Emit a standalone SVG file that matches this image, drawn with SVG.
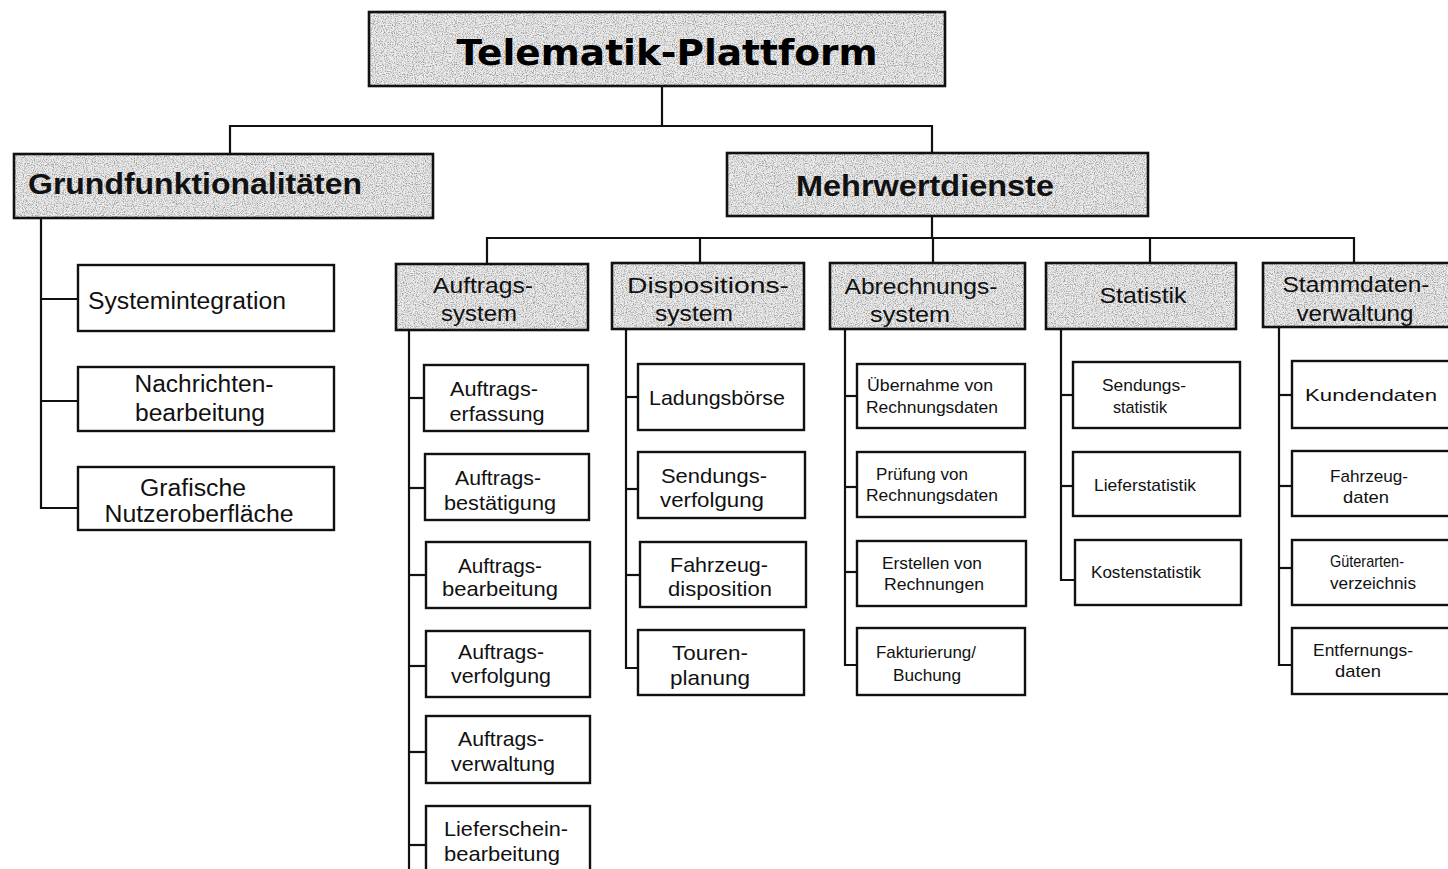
<svg xmlns="http://www.w3.org/2000/svg" width="1448" height="869" viewBox="0 0 1448 869">
  <style>
    .shade { fill: #d4d4d4; filter: url(#grain); }
    .frame { fill: none; stroke: #111; stroke-width: 2.6; }
    .box { fill: #fff; stroke: #111; stroke-width: 2.4; }
    .wire { fill: none; stroke: #111; stroke-width: 2.2; }
    text { fill: #111; font-family: "Liberation Sans", Arial, sans-serif; }
    .t0 { font-family: "DejaVu Sans", Verdana, sans-serif; font-weight: bold; font-size: 36px; fill: #000; }
    .t1 { font-weight: bold; font-size: 29px; }
    .t2 { font-size: 22px; text-anchor: middle; }
    .t3 { font-size: 23px; text-anchor: middle; }
    .t4 { font-size: 21px; text-anchor: middle; }
    .t5 { font-size: 17px; text-anchor: middle; }
  </style>
  <defs>
    <!-- speckled grey fill for heading boxes -->
    <filter id="grain" x="0" y="0" width="100%" height="100%">
      <feTurbulence type="fractalNoise" baseFrequency="0.9" numOctaves="2" seed="7" result="noise"/>
      <feColorMatrix in="noise" type="matrix" values="0 0 0 0 0.35  0 0 0 0 0.35  0 0 0 0 0.35  0 0 0 -3 1.75" result="dots"/>
      <feComposite in="dots" in2="SourceGraphic" operator="in" result="speck"/>
      <feFlood flood-color="#ececec" result="light"/>
      <feComposite in="light" in2="SourceGraphic" operator="in" result="base"/>
      <feMerge><feMergeNode in="base"/><feMergeNode in="speck"/></feMerge>
    </filter>
  </defs>
  <rect width="1448" height="869" fill="#fff"/>

  <g id="connectors">
    <!-- root to level 1 -->
    <polyline class="wire" points="662,86 662,126"/>
    <polyline class="wire" points="230,154 230,126 932,126 932,153"/>
    <!-- Grundfunktionalitäten -->
    <polyline class="wire" points="41,218 41,508 78,508"/>
    <line class="wire" x1="41" y1="299" x2="78" y2="299"/>
    <line class="wire" x1="41" y1="401" x2="78" y2="401"/>
    <!-- Mehrwertdienste -->
    <polyline class="wire" points="932,216 932,238"/>
    <polyline class="wire" points="487,264 487,238 1354,238 1354,263"/>
    <line class="wire" x1="700" y1="238" x2="700" y2="263"/>
    <line class="wire" x1="933" y1="238" x2="933" y2="263"/>
    <line class="wire" x1="1150" y1="238" x2="1150" y2="263"/>
    <!-- Auftragssystem -->
    <polyline class="wire" points="409,330 409,869"/>
    <line class="wire" x1="409" y1="398" x2="424" y2="398"/>
    <line class="wire" x1="409" y1="488" x2="424" y2="488"/>
    <line class="wire" x1="409" y1="575" x2="426" y2="575"/>
    <line class="wire" x1="409" y1="666" x2="426" y2="666"/>
    <line class="wire" x1="409" y1="752" x2="426" y2="752"/>
    <line class="wire" x1="409" y1="845" x2="426" y2="845"/>
    <!-- Dispositionssystem -->
    <polyline class="wire" points="626,329 626,668 638,668"/>
    <line class="wire" x1="626" y1="397" x2="638" y2="397"/>
    <line class="wire" x1="626" y1="489" x2="638" y2="489"/>
    <line class="wire" x1="626" y1="575" x2="640" y2="575"/>
    <!-- Abrechnungssystem -->
    <polyline class="wire" points="845,329 845,665 857,665"/>
    <line class="wire" x1="845" y1="396" x2="857" y2="396"/>
    <line class="wire" x1="845" y1="487" x2="857" y2="487"/>
    <line class="wire" x1="845" y1="572" x2="857" y2="572"/>
    <!-- Statistik -->
    <polyline class="wire" points="1061,329 1061,580 1075,580"/>
    <line class="wire" x1="1061" y1="395" x2="1073" y2="395"/>
    <line class="wire" x1="1061" y1="486" x2="1073" y2="486"/>
    <!-- Stammdatenverwaltung -->
    <polyline class="wire" points="1279,327 1279,665 1292,665"/>
    <line class="wire" x1="1279" y1="395" x2="1292" y2="395"/>
    <line class="wire" x1="1279" y1="486" x2="1292" y2="486"/>
    <line class="wire" x1="1279" y1="568" x2="1292" y2="568"/>
  </g>

  <!-- root -->
  <g id="telematik-plattform">
    <rect class="shade" x="369" y="12" width="576" height="74"/>
    <rect class="frame" x="369" y="12" width="576" height="74"/>
    <text class="t0" x="667" y="65" text-anchor="middle" textLength="421" lengthAdjust="spacingAndGlyphs">Telematik-Plattform</text>
  </g>

  <!-- level 1 -->
  <g id="grundfunktionalitaeten">
    <rect class="shade" x="14" y="154" width="419" height="64"/>
    <rect class="frame" x="14" y="154" width="419" height="64"/>
    <text class="t1" x="28" y="194" textLength="334" lengthAdjust="spacingAndGlyphs">Grundfunktionalitäten</text>
  </g>
  <g id="mehrwertdienste">
    <rect class="shade" x="727" y="153" width="421" height="63"/>
    <rect class="frame" x="727" y="153" width="421" height="63"/>
    <text class="t1" x="796" y="196" textLength="258" lengthAdjust="spacingAndGlyphs">Mehrwertdienste</text>
  </g>

  <!-- Grundfunktionalitäten children -->
  <g id="systemintegration">
    <rect class="box" x="78" y="265" width="256" height="66"/>
    <text class="t3" x="187" y="309" textLength="198" lengthAdjust="spacingAndGlyphs">Systemintegration</text>
  </g>
  <g id="nachrichtenbearbeitung">
    <rect class="box" x="78" y="367" width="256" height="64"/>
    <text class="t3" x="204" y="392" textLength="139" lengthAdjust="spacingAndGlyphs">Nachrichten-</text>
    <text class="t3" x="200" y="421" textLength="130" lengthAdjust="spacingAndGlyphs">bearbeitung</text>
  </g>
  <g id="nutzeroberflaeche">
    <rect class="box" x="78" y="467" width="256" height="63"/>
    <text class="t3" x="193" y="496" textLength="106" lengthAdjust="spacingAndGlyphs">Grafische</text>
    <text class="t3" x="199" y="522" textLength="189" lengthAdjust="spacingAndGlyphs">Nutzeroberfläche</text>
  </g>

  <!-- Mehrwertdienste categories -->
  <g id="auftragssystem">
    <rect class="shade" x="396" y="264" width="192" height="66"/>
    <rect class="frame" x="396" y="264" width="192" height="66"/>
    <text class="t2" x="483" y="293" textLength="100" lengthAdjust="spacingAndGlyphs">Auftrags-</text>
    <text class="t2" x="479" y="321" textLength="76" lengthAdjust="spacingAndGlyphs">system</text>
  </g>
  <g id="dispositionssystem">
    <rect class="shade" x="612" y="263" width="192" height="66"/>
    <rect class="frame" x="612" y="263" width="192" height="66"/>
    <text class="t2" x="708" y="293" textLength="162" lengthAdjust="spacingAndGlyphs">Dispositions-</text>
    <text class="t2" x="694" y="321" textLength="78" lengthAdjust="spacingAndGlyphs">system</text>
  </g>
  <g id="abrechnungssystem">
    <rect class="shade" x="830" y="263" width="195" height="66"/>
    <rect class="frame" x="830" y="263" width="195" height="66"/>
    <text class="t2" x="921" y="294" textLength="153" lengthAdjust="spacingAndGlyphs">Abrechnungs-</text>
    <text class="t2" x="910" y="322" textLength="80" lengthAdjust="spacingAndGlyphs">system</text>
  </g>
  <g id="statistik">
    <rect class="shade" x="1046" y="263" width="190" height="66"/>
    <rect class="frame" x="1046" y="263" width="190" height="66"/>
    <text class="t2" x="1143" y="303" textLength="87" lengthAdjust="spacingAndGlyphs">Statistik</text>
  </g>
  <g id="stammdatenverwaltung">
    <rect class="shade" x="1263" y="263" width="200" height="64"/>
    <rect class="frame" x="1263" y="263" width="200" height="64"/>
    <text class="t2" x="1356" y="292" textLength="147" lengthAdjust="spacingAndGlyphs">Stammdaten-</text>
    <text class="t2" x="1355" y="321" textLength="117" lengthAdjust="spacingAndGlyphs">verwaltung</text>
  </g>

  <!-- Auftragssystem children -->
  <g id="auftragserfassung">
    <rect class="box" x="424" y="365" width="164" height="66"/>
    <text class="t4" x="494" y="396" textLength="88" lengthAdjust="spacingAndGlyphs">Auftrags-</text>
    <text class="t4" x="497" y="421" textLength="95" lengthAdjust="spacingAndGlyphs">erfassung</text>
  </g>
  <g id="auftragsbestaetigung">
    <rect class="box" x="425" y="454" width="164" height="66"/>
    <text class="t4" x="498" y="485" textLength="86" lengthAdjust="spacingAndGlyphs">Auftrags-</text>
    <text class="t4" x="500" y="510" textLength="112" lengthAdjust="spacingAndGlyphs">bestätigung</text>
  </g>
  <g id="auftragsbearbeitung">
    <rect class="box" x="426" y="542" width="164" height="66"/>
    <text class="t4" x="500" y="573" textLength="84" lengthAdjust="spacingAndGlyphs">Auftrags-</text>
    <text class="t4" x="500" y="596" textLength="116" lengthAdjust="spacingAndGlyphs">bearbeitung</text>
  </g>
  <g id="auftragsverfolgung">
    <rect class="box" x="426" y="631" width="164" height="66"/>
    <text class="t4" x="501" y="659" textLength="86" lengthAdjust="spacingAndGlyphs">Auftrags-</text>
    <text class="t4" x="501" y="683" textLength="100" lengthAdjust="spacingAndGlyphs">verfolgung</text>
  </g>
  <g id="auftragsverwaltung">
    <rect class="box" x="426" y="716" width="164" height="67"/>
    <text class="t4" x="501" y="746" textLength="86" lengthAdjust="spacingAndGlyphs">Auftrags-</text>
    <text class="t4" x="503" y="771" textLength="104" lengthAdjust="spacingAndGlyphs">verwaltung</text>
  </g>
  <g id="lieferscheinbearbeitung">
    <rect class="box" x="426" y="806" width="164" height="80"/>
    <text class="t4" x="506" y="836" textLength="124" lengthAdjust="spacingAndGlyphs">Lieferschein-</text>
    <text class="t4" x="502" y="861" textLength="116" lengthAdjust="spacingAndGlyphs">bearbeitung</text>
  </g>

  <!-- Dispositionssystem children -->
  <g id="ladungsboerse">
    <rect class="box" x="638" y="364" width="166" height="66"/>
    <text class="t4" x="717" y="405" textLength="136" lengthAdjust="spacingAndGlyphs">Ladungsbörse</text>
  </g>
  <g id="sendungsverfolgung">
    <rect class="box" x="638" y="452" width="167" height="66"/>
    <text class="t4" x="714" y="483" textLength="106" lengthAdjust="spacingAndGlyphs">Sendungs-</text>
    <text class="t4" x="712" y="507" textLength="104" lengthAdjust="spacingAndGlyphs">verfolgung</text>
  </g>
  <g id="fahrzeugdisposition">
    <rect class="box" x="640" y="542" width="166" height="65"/>
    <text class="t4" x="719" y="572" textLength="98" lengthAdjust="spacingAndGlyphs">Fahrzeug-</text>
    <text class="t4" x="720" y="596" textLength="104" lengthAdjust="spacingAndGlyphs">disposition</text>
  </g>
  <g id="tourenplanung">
    <rect class="box" x="638" y="630" width="166" height="65"/>
    <text class="t4" x="710" y="660" textLength="76" lengthAdjust="spacingAndGlyphs">Touren-</text>
    <text class="t4" x="710" y="685" textLength="80" lengthAdjust="spacingAndGlyphs">planung</text>
  </g>

  <!-- Abrechnungssystem children -->
  <g id="uebernahme-rechnungsdaten">
    <rect class="box" x="857" y="364" width="168" height="64"/>
    <text class="t5" x="930" y="391" textLength="126" lengthAdjust="spacingAndGlyphs">Übernahme von</text>
    <text class="t5" x="932" y="413" textLength="132" lengthAdjust="spacingAndGlyphs">Rechnungsdaten</text>
  </g>
  <g id="pruefung-rechnungsdaten">
    <rect class="box" x="857" y="452" width="168" height="65"/>
    <text class="t5" x="922" y="480" textLength="92" lengthAdjust="spacingAndGlyphs">Prüfung von</text>
    <text class="t5" x="932" y="501" textLength="132" lengthAdjust="spacingAndGlyphs">Rechnungsdaten</text>
  </g>
  <g id="erstellen-rechnungen">
    <rect class="box" x="857" y="541" width="169" height="65"/>
    <text class="t5" x="932" y="569" textLength="100" lengthAdjust="spacingAndGlyphs">Erstellen von</text>
    <text class="t5" x="934" y="590" textLength="100" lengthAdjust="spacingAndGlyphs">Rechnungen</text>
  </g>
  <g id="fakturierung-buchung">
    <rect class="box" x="857" y="628" width="168" height="67"/>
    <text class="t5" x="926" y="658" textLength="100" lengthAdjust="spacingAndGlyphs">Fakturierung/</text>
    <text class="t5" x="927" y="681" textLength="68" lengthAdjust="spacingAndGlyphs">Buchung</text>
  </g>

  <!-- Statistik children -->
  <g id="sendungsstatistik">
    <rect class="box" x="1073" y="362" width="167" height="66"/>
    <text class="t5" x="1144" y="391" textLength="84" lengthAdjust="spacingAndGlyphs">Sendungs-</text>
    <text class="t5" x="1140" y="413" textLength="54" lengthAdjust="spacingAndGlyphs">statistik</text>
  </g>
  <g id="lieferstatistik">
    <rect class="box" x="1073" y="452" width="167" height="64"/>
    <text class="t5" x="1145" y="491" textLength="102" lengthAdjust="spacingAndGlyphs">Lieferstatistik</text>
  </g>
  <g id="kostenstatistik">
    <rect class="box" x="1075" y="540" width="166" height="65"/>
    <text class="t5" x="1146" y="578" textLength="110" lengthAdjust="spacingAndGlyphs">Kostenstatistik</text>
  </g>

  <!-- Stammdatenverwaltung children -->
  <g id="kundendaten">
    <rect class="box" x="1292" y="361" width="170" height="67"/>
    <text class="t5" x="1371" y="401" textLength="132" lengthAdjust="spacingAndGlyphs">Kundendaten</text>
  </g>
  <g id="fahrzeugdaten">
    <rect class="box" x="1292" y="451" width="170" height="65"/>
    <text class="t5" x="1369" y="482" textLength="78" lengthAdjust="spacingAndGlyphs">Fahrzeug-</text>
    <text class="t5" x="1366" y="503" textLength="46" lengthAdjust="spacingAndGlyphs">daten</text>
  </g>
  <g id="gueterartenverzeichnis">
    <rect class="box" x="1292" y="540" width="170" height="65"/>
    <text class="t5" x="1367" y="567" textLength="74" lengthAdjust="spacingAndGlyphs">Güterarten-</text>
    <text class="t5" x="1373" y="589" textLength="86" lengthAdjust="spacingAndGlyphs">verzeichnis</text>
  </g>
  <g id="entfernungsdaten">
    <rect class="box" x="1292" y="628" width="170" height="66"/>
    <text class="t5" x="1363" y="656" textLength="100" lengthAdjust="spacingAndGlyphs">Entfernungs-</text>
    <text class="t5" x="1358" y="677" textLength="46" lengthAdjust="spacingAndGlyphs">daten</text>
  </g>
</svg>
